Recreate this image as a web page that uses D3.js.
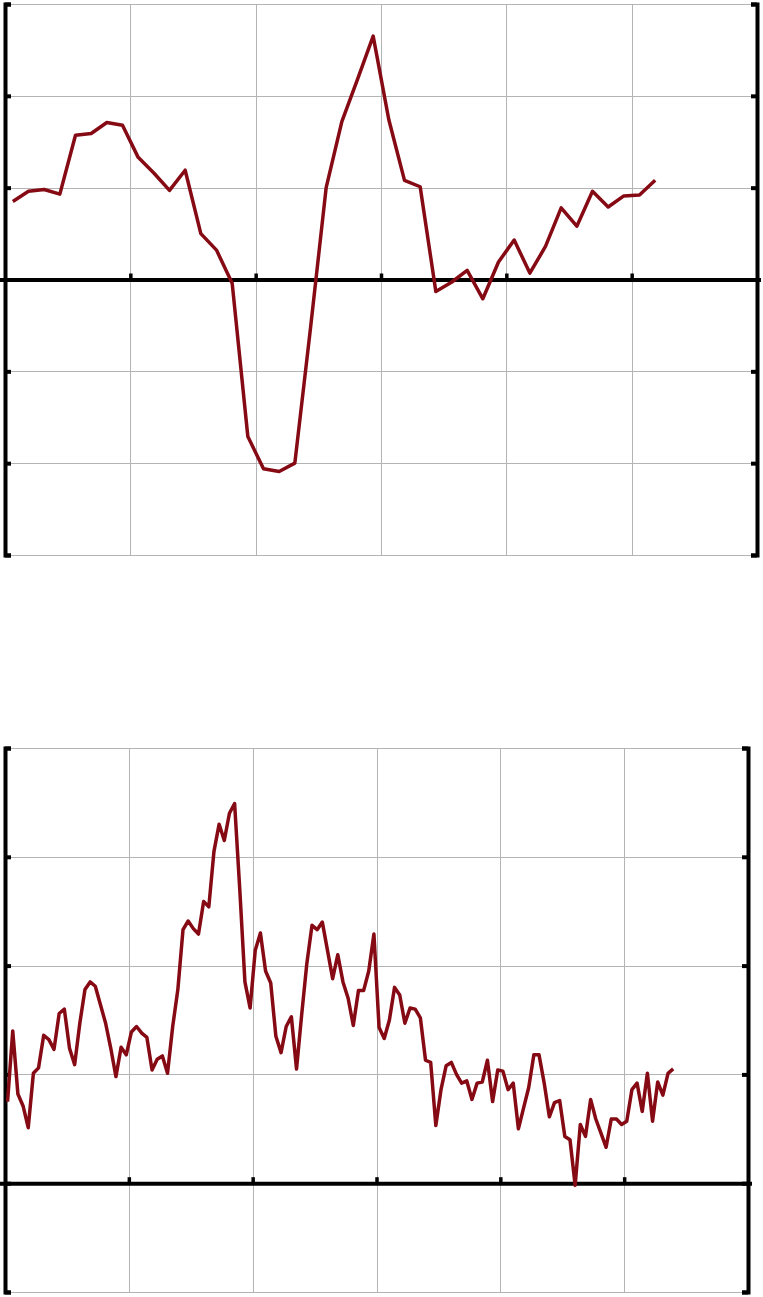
<!DOCTYPE html>
<html>
<head>
<meta charset="utf-8">
<script src="https://cdn.jsdelivr.net/npm/d3@7"></script>
<style>
  body { margin: 0; background: #fff; }
  svg { display: block; }
</style>
</head>
<body>
<svg class="chart"></svg>
<script>
//page size
var width = 763;
var height = 1297;

//upper panel: quarterly series, 48 slots, grid every 8 slots
var upperSlots = 48;
var upperXTicks = [0, 8, 16, 24, 32, 40, 48];
var upperYTicks = [-3, -2, -1, 0, 1, 2, 3];
var upperValues = [0.85, 0.96, 0.98, 0.93, 1.57, 1.59, 1.71, 1.68, 1.33, 1.16,
                   0.97, 1.19, 0.50, 0.32, -0.04, -1.71, -2.06, -2.09, -2.00, -0.53,
                   1.00, 1.72, 2.18, 2.65, 1.74, 1.08, 1.01, -0.13, -0.03, 0.10,
                   -0.21, 0.19, 0.43, 0.07, 0.36, 0.78, 0.58, 0.96, 0.79, 0.91,
                   0.92, 1.08];

//lower panel: monthly series, 144 slots, grid every 24 slots
var lowerSlots = 144;
var lowerXTicks = [0, 24, 48, 72, 96, 120, 144];
var lowerYTicks = [-1, 0, 1, 2, 3, 4];
var lowerValues = [0.75, 1.40, 0.82, 0.71, 0.51, 1.01, 1.06, 1.36, 1.32, 1.23,
                   1.56, 1.60, 1.24, 1.09, 1.47, 1.78, 1.85, 1.81, 1.64, 1.47,
                   1.24, 0.98, 1.25, 1.18, 1.39, 1.44, 1.38, 1.34, 1.04, 1.14,
                   1.17, 1.01, 1.44, 1.78, 2.33, 2.41, 2.34, 2.29, 2.59, 2.54,
                   3.05, 3.30, 3.15, 3.40, 3.49, 2.70, 1.85, 1.61, 2.14, 2.30,
                   1.95, 1.84, 1.35, 1.20, 1.44, 1.53, 1.05, 1.55, 2.02, 2.37,
                   2.33, 2.40, 2.14, 1.88, 2.10, 1.85, 1.70, 1.45, 1.77, 1.77,
                   1.95, 2.29, 1.43, 1.33, 1.50, 1.80, 1.73, 1.47, 1.61, 1.60,
                   1.52, 1.13, 1.11, 0.53, 0.86, 1.08, 1.11, 1.00, 0.92, 0.94,
                   0.77, 0.92, 0.93, 1.13, 0.75, 1.04, 1.03, 0.86, 0.92, 0.50,
                   0.69, 0.88, 1.18, 1.18, 0.92, 0.61, 0.74, 0.76, 0.43, 0.40,
                   -0.02, 0.54, 0.43, 0.77, 0.59, 0.46, 0.33, 0.59, 0.59, 0.54,
                   0.57, 0.86, 0.92, 0.66, 1.01, 0.57, 0.93, 0.81, 1.01, 1.05];

var lineColor = "#860a14";
var gridColor = "#b4b4b4";

var chart = d3.select(".chart")
    .attr("width", width)
    .attr("height", height);

drawPanel(upperValues, upperSlots, upperXTicks, upperYTicks, {left: 5, right: 757, top: 4, bottom: 555});
drawPanel(lowerValues, lowerSlots, lowerXTicks, lowerYTicks, {left: 5, right: 748, top: 748, bottom: 1292});


function drawPanel(values, slots, xTicks, yTicks, box) {

  var g = chart.append("g");

  var x = d3.scaleLinear()
      .domain([0, slots])
      .range([box.left, box.right]);

  var y = d3.scaleLinear()
      .domain([yTicks[0], yTicks[yTicks.length - 1]])
      .range([box.bottom, box.top]);

  //grid
  g.selectAll(".vgrid")
    .data(xTicks)
    .enter().append("line")
      .attr("class", "vgrid")
      .attr("x1", function(d) { return Math.round(x(d)) + 0.5; })
      .attr("x2", function(d) { return Math.round(x(d)) + 0.5; })
      .attr("y1", y.range()[1])
      .attr("y2", y.range()[0])
      .style("stroke", gridColor)
      .style("stroke-width", 1);

  g.selectAll(".hgrid")
    .data(yTicks)
    .enter().append("line")
      .attr("class", "hgrid")
      .attr("x1", x.range()[0])
      .attr("x2", x.range()[1])
      .attr("y1", function(d) { return Math.round(y(d)) + 0.5; })
      .attr("y2", function(d) { return Math.round(y(d)) + 0.5; })
      .style("stroke", gridColor)
      .style("stroke-width", 1);

  //zero line runs a little past both side axes
  g.append("line")
    .attr("x1", x.range()[0] - 5)
    .attr("x2", x.range()[1] + 4)
    .attr("y1", y(0) + 0.5)
    .attr("y2", y(0) + 0.5)
    .style("stroke", "#000")
    .style("stroke-width", 4);

  var zeroAxis = d3.axisTop(x)
      .tickValues(xTicks.slice(1, -1))
      .tickSize(6)
      .tickSizeOuter(0)
      .tickFormat("");

  g.append("g")
    .attr("transform", "translate(0," + y(0) + ")")
    .style("color", "#000")
    .call(zeroAxis)
    .call(function(a) { a.select(".domain").remove(); })
    .selectAll(".tick line")
      .style("stroke-width", 3.5);

  //side axes, ticks point into the plot
  var leftAxis = d3.axisRight(y)
      .tickValues(yTicks)
      .tickSize(6)
      .tickSizeOuter(6)
      .tickFormat("");

  var rightAxis = d3.axisLeft(y)
      .tickValues(yTicks)
      .tickSize(6)
      .tickSizeOuter(6)
      .tickFormat("");

  [[leftAxis, box.left], [rightAxis, box.right]].forEach(function(a) {
    var ax = g.append("g")
      .attr("transform", "translate(" + a[1] + ",0)")
      .style("color", "#000")
      .call(a[0]);
    ax.select(".domain").style("stroke-width", 4);
    ax.selectAll(".tick line").style("stroke-width", 4);
  });

  //series
  var line = d3.line()
      .x(function(d, i) { return x(i + 0.5); })
      .y(function(d) { return y(d); });

  g.append("path")
    .datum(values)
    .attr("d", line)
    .style("fill", "none")
    .style("stroke", lineColor)
    .style("stroke-width", 3.5)
    .style("stroke-linejoin", "round");
}
</script>
</body>
</html>
